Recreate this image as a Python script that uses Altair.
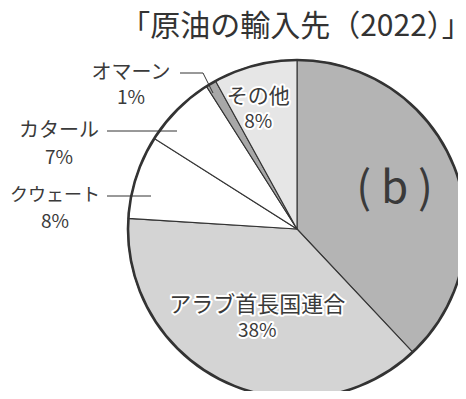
import altair as alt
import pandas as pd

# ---- data ----
categories = ["(b)", "アラブ首長国連合", "クウェート", "カタール", "オマーン", "その他"]
values = [38, 38, 8, 7, 1, 8]
slice_order = [0, 1, 2, 3, 4, 5]
title_text = "「原油の輸入先（2022）」"
b_label = "( b )"

# ---- style ----
fills = ["#b4b4b4", "#d4d4d4", "#ffffff", "#ffffff", "#a8a8a8", "#e6e6e6"]
FONT = "Noto Sans CJK JP"
TXT = "#3a3a3a"
LINE = "#333333"
CX, CY, R = 289, 221, 169   # pie centre (svg coordinates) and radius

df = pd.DataFrame({"cat": categories, "value": values, "ord": slice_order})

base = (
    alt.Chart(df)
    .transform_window(cum="sum(value)", sort=[alt.SortField("ord")])
    .transform_calculate(
        start="datum.cum - datum.value",
        mid="datum.cum - datum.value / 2",
        pct="datum.value + '%'",
    )
)

theta_scale = alt.Scale(domain=[0, 100])
color_scale = alt.Scale(domain=categories, range=fills)

slices = base.mark_arc(radius=R, stroke=LINE, strokeWidth=1.1).encode(
    theta=alt.Theta("start:Q", scale=theta_scale),
    theta2="cum:Q",
    color=alt.Color("cat:N", scale=color_scale, legend=None),
    x=alt.value(CX),
    y=alt.value(CY),
)

outline = base.transform_filter(alt.datum.ord == 0).mark_arc(
    radius=R, fillOpacity=0, stroke=LINE, strokeWidth=2.6
).encode(
    theta=alt.Theta("start:Q", scale=theta_scale),
    theta2=alt.datum(100),
    x=alt.value(CX),
    y=alt.value(CY),
)


def inside(cat, field, r, dx, dy, size, halo=True):
    layers = []
    common = dict(font=FONT, fontSize=size, radius=r, dx=dx, dy=dy, align="center", baseline="middle")
    enc = dict(
        theta=alt.Theta("mid:Q", scale=theta_scale),
        text=f"{field}:N",
        x=alt.value(CX),
        y=alt.value(CY),
    )
    src = base.transform_filter(alt.datum.cat == cat)
    if halo:
        layers.append(src.mark_text(stroke="white", strokeWidth=4, strokeJoin="round", fill="white", **common).encode(**enc))
    layers.append(src.mark_text(fill=TXT, **common).encode(**enc))
    return layers


def outside(cat, field, x, y, size):
    return (
        base.transform_filter(alt.datum.cat == cat)
        .mark_text(font=FONT, fontSize=size, fill=TXT, align="center", baseline="middle")
        .encode(text=f"{field}:N", x=alt.value(x), y=alt.value(y))
    )


title = alt.Chart(pd.DataFrame({"t": [title_text]})).mark_text(
    font=FONT, fontSize=30, fill="#333333", align="center", baseline="middle"
).encode(text="t:N", x=alt.value(CX - 1), y=alt.value(19))

b_text = base.transform_filter(alt.datum.cat == "(b)").mark_text(
    font=FONT, fontSize=44, fill="#3a3a3a", radius=105, align="center", baseline="middle"
).encode(
    theta=alt.Theta("mid:Q", scale=theta_scale),
    text=alt.value(b_label),
    x=alt.value(CX),
    y=alt.value(CY),
)

rules = [
    # Oman leader
    alt.Chart(df.head(1)).mark_rule(color=LINE, strokeWidth=1).encode(
        x=alt.value(172), x2=alt.value(195), y=alt.value(65)),
    alt.Chart(df.head(1)).mark_rule(color=LINE, strokeWidth=1).encode(
        x=alt.value(195), x2=alt.value(205), y=alt.value(65), y2=alt.value(85)),
    # Qatar leader
    alt.Chart(df.head(1)).mark_rule(color=LINE, strokeWidth=1).encode(
        x=alt.value(99), x2=alt.value(169), y=alt.value(123)),
    # Kuwait leader
    alt.Chart(df.head(1)).mark_rule(color=LINE, strokeWidth=1).encode(
        x=alt.value(99), x2=alt.value(143), y=alt.value(188)),
]

layers = [slices, outline] + rules
layers += inside("その他", "cat", 136, -5, 0, 21)
layers += inside("その他", "pct", 136, -5, 25, 19)
layers += inside("アラブ首長国連合", "cat", 84, -4, 0, 22)
layers += inside("アラブ首長国連合", "pct", 84, -4, 26, 19)
layers += [
    b_text,
    outside("オマーン", "cat", 123, 65, 20),
    outside("オマーン", "pct", 123, 90, 19),
    outside("カタール", "cat", 51, 123, 20),
    outside("カタール", "pct", 51, 150, 19),
    outside("クウェート", "cat", 47, 188, 18),
    outside("クウェート", "pct", 47, 214, 19),
    title,
]

chart = (
    alt.layer(*layers)
    .properties(width=450, height=383, padding=0, autosize="none", background="white")
    .configure_view(stroke=None)
)

chart.save("out.html", embed_options={"renderer": "svg", "actions": False})
